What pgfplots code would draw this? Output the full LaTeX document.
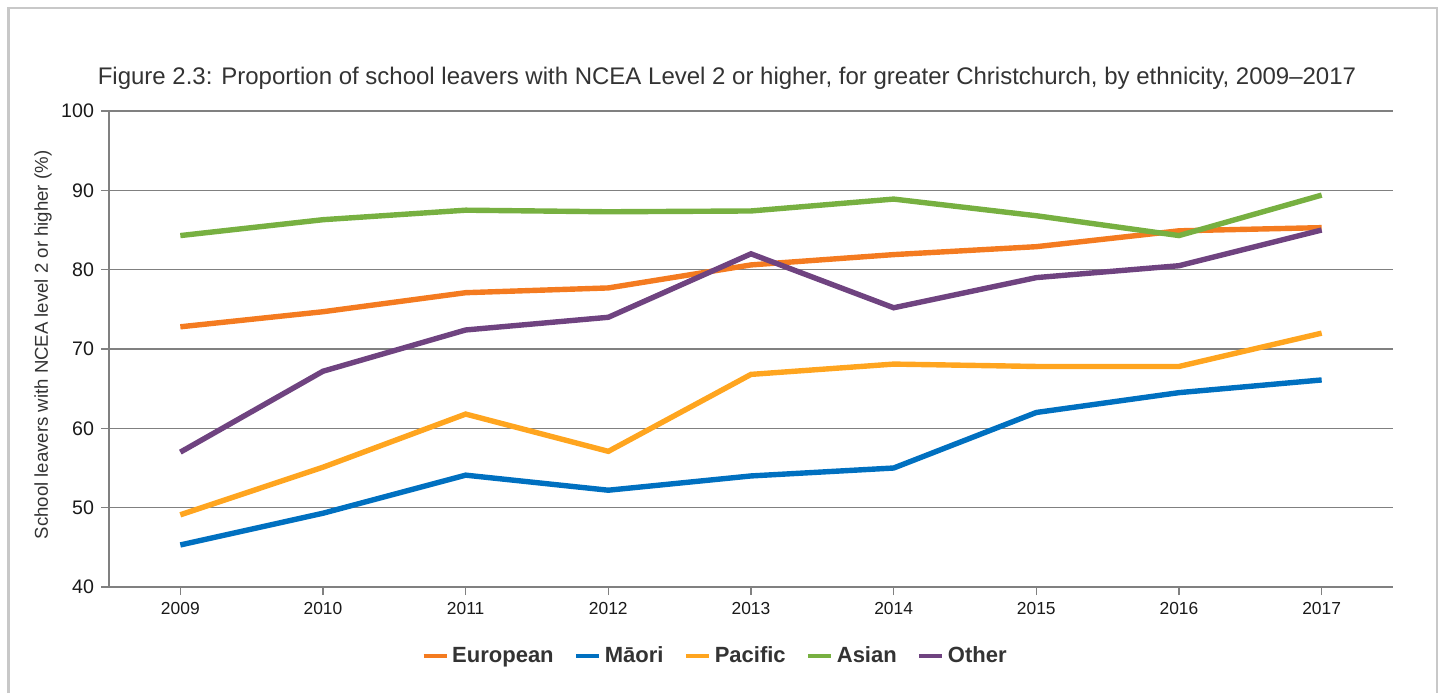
\documentclass[border=0pt]{standalone}
\usepackage{fontspec}
\setmainfont{Liberation Sans}
\usepackage{pgfplots}
\pgfplotsset{compat=1.18}
\definecolor{euro}{RGB}{244,123,32}
\definecolor{maori}{RGB}{0,112,192}
\definecolor{pac}{RGB}{255,165,31}
\definecolor{asian}{RGB}{119,176,65}
\definecolor{other}{RGB}{111,67,128}
\definecolor{gridc}{RGB}{128,128,128}
\definecolor{framec}{RGB}{200,200,200}
\definecolor{txt}{RGB}{51,51,51}
\begin{document}
\begin{tikzpicture}
\path[use as bounding box] (0,0) rectangle (720.5pt,346.5pt);
\draw[framec, line width=1.2pt] (4.25pt,0) -- (4.25pt,342.5pt) -- (718.5pt,342.5pt) -- (718.5pt,0);
\node[font=\fontsize{12}{14}\selectfont, text=txt] at (363.5pt,307.5pt) {Figure 2.3: Proportion of school leavers with NCEA Level 2 or higher, for greater Christchurch, by ethnicity, 2009--2017};
\node[rotate=90, font=\fontsize{9.3}{11}\selectfont, text=txt] at (21.5pt,174pt) {School leavers with NCEA level 2 or higher (\%)};
\begin{axis}[
  at={(54.5pt,53pt)}, anchor=south west,
  scale only axis, width=642pt, height=238pt,
  xmin=2008.5, xmax=2017.5, ymin=40, ymax=100,
  xtick={2009,2010,...,2017}, ytick={40,50,...,100},
  axis lines=left,
  axis line style={-, draw=gridc, line width=0.7pt},
  ymajorgrids, grid style={gridc, line width=0.7pt},
  tick align=outside, major tick length=4pt,
  tick style={gridc, line width=0.7pt},
  /pgf/number format/assume math mode=true,
  /pgf/number format/1000 sep={},
  xticklabel style={font=\fontsize{8.7}{10}\selectfont, text=black!90},
  yticklabel style={font=\fontsize{9.8}{11}\selectfont, text=black!90},
  legend style={at={(0.473,-0.145)}, anchor=center, legend columns=5, draw=none,
    font=\bfseries\fontsize{11}{13}\selectfont, text=txt,
    /tikz/every even column/.append style={column sep=8.5pt}},
  legend image code/.code={\draw[line width=1.6pt] (0pt,0pt) -- (11.5pt,0pt);},
  every axis plot/.append style={line width=2.7pt},
]
\addplot[euro] coordinates {(2009,72.8) (2010,74.7) (2011,77.1) (2012,77.7) (2013,80.6) (2014,81.9) (2015,82.9) (2016,84.9) (2017,85.3)};
\addlegendentry{European}
\addplot[maori] coordinates {(2009,45.3) (2010,49.3) (2011,54.1) (2012,52.2) (2013,54.0) (2014,55.0) (2015,62.0) (2016,64.5) (2017,66.1)};
\addlegendentry{Māori}
\addplot[pac] coordinates {(2009,49.1) (2010,55.1) (2011,61.8) (2012,57.1) (2013,66.8) (2014,68.1) (2015,67.8) (2016,67.8) (2017,72.0)};
\addlegendentry{Pacific}
\addplot[asian] coordinates {(2009,84.3) (2010,86.3) (2011,87.5) (2012,87.3) (2013,87.4) (2014,88.9) (2015,86.8) (2016,84.3) (2017,89.4)};
\addlegendentry{Asian}
\addplot[other] coordinates {(2009,57.0) (2010,67.2) (2011,72.4) (2012,74.0) (2013,82.0) (2014,75.2) (2015,79.0) (2016,80.5) (2017,85.0)};
\addlegendentry{Other}
\end{axis}
\end{tikzpicture}
\end{document}
